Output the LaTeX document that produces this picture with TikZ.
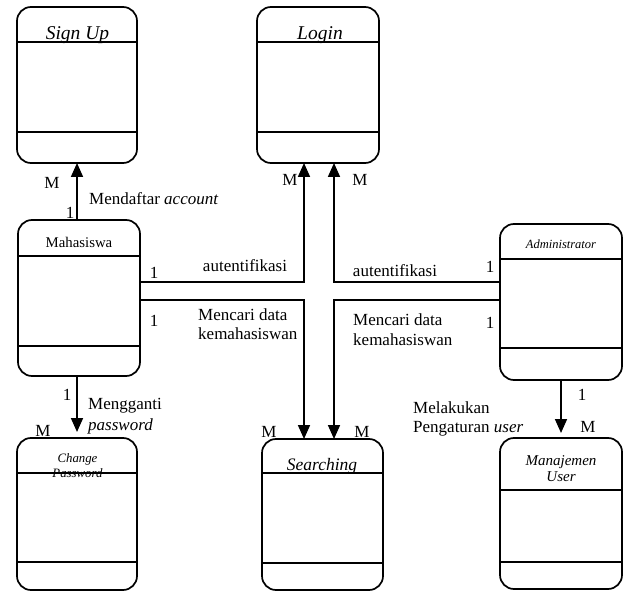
\documentclass[tikz,border=0pt]{standalone}
\usepackage{fontspec}
\setmainfont{Liberation Serif}
\usetikzlibrary{arrows.meta}
\tikzset{
  entity/.style={draw, rounded corners=14pt, line width=1.7pt, inner sep=0pt, outer sep=0pt},
  divider/.style={line width=1.7pt},
  lbl/.style={font=\fontsize{17}{20}\selectfont, inner sep=0pt},
  ttl/.style={inner sep=0pt, anchor=base},
  flow/.style={line width=1.7pt},
  arr/.style={line width=1.7pt, -{Triangle[width=12pt,length=14pt]}},
}
\newcommand\entlines[3]{%
  \draw[divider] ([yshift=-#2]#1.north west) -- ([yshift=-#2]#1.north east);
  \draw[divider] ([yshift=#3]#1.south west) -- ([yshift=#3]#1.south east);}
\begin{document}
\begin{tikzpicture}[x=1pt,y=-1pt]
\useasboundingbox (0,0) rectangle (626,593);
% entities
\node[entity, minimum width=120pt, minimum height=156pt] (signup) at (77,85) {};
\node[entity, minimum width=122pt, minimum height=156pt] (login) at (318,85) {};
\node[entity, minimum width=122pt, minimum height=156pt] (maha) at (79,298) {};
\node[entity, minimum width=122pt, minimum height=156pt] (admin) at (561,302) {};
\node[entity, minimum width=120pt, minimum height=152pt] (change) at (77,514) {};
\node[entity, minimum width=121pt, minimum height=151pt] (search) at (322.5,514.5) {};
\node[entity, minimum width=122pt, minimum height=151pt] (manaj) at (561,513.5) {};
\entlines{signup}{35pt}{31pt}
\entlines{login}{35pt}{31pt}
\entlines{maha}{36pt}{30pt}
\entlines{admin}{35pt}{32pt}
\entlines{change}{35pt}{28pt}
\entlines{search}{34pt}{27pt}
\entlines{manaj}{52pt}{27pt}
% titles
\node[ttl, font=\fontsize{19.5}{22}\selectfont\itshape] (tsignup) at (77.5,40) {Sign Up};
\node[ttl, font=\fontsize{19.5}{22}\selectfont\itshape] (tlogin) at (320,40) {Login};
\node[ttl, font=\fontsize{14.8}{16}\selectfont] (tmaha) at (79,248) {Mahasiswa};
\node[ttl, font=\fontsize{12.5}{14}\selectfont\itshape] (tadmin) at (561,249) {Administrator};
\node[ttl, font=\fontsize{12.8}{15}\selectfont\itshape] (tchange1) at (77.5,462) {Change};
\node[ttl, font=\fontsize{12.8}{15}\selectfont\itshape] (tchange2) at (77.5,477) {Password};
\node[ttl, font=\fontsize{17.5}{20}\selectfont\itshape] (tsearch) at (322,470) {Searching};
\node[ttl, font=\fontsize{15}{17}\selectfont\itshape] (tmanaj1) at (561,465) {Manajemen};
\node[ttl, font=\fontsize{15}{17}\selectfont\itshape] (tmanaj2) at (561,481) {User};
% connectors
\coordinate (la) at (304,282);
\coordinate (lb) at (304,300);
\coordinate (ra) at (334,282);
\coordinate (rb) at (334,300);
\draw[arr] (signup.south |- maha.north) -- (signup.south);
\draw[arr, shorten >=6pt] (change.north |- maha.south) -- (change.north);
\draw[arr, shorten >=5pt] (admin.south -| manaj.north) -- (manaj.north);
\draw[arr] (maha.east |- la) -- (la) -- (login.south -| la);
\draw[arr] (maha.east |- lb) -- (lb) -- (search.north -| lb);
\draw[arr] (admin.west |- ra) -- (ra) -- (login.south -| ra);
\draw[arr] (admin.west |- rb) -- (rb) -- (search.north -| rb);
% cardinalities
\node[lbl] (m1) at (52,183) {M};
\node[lbl] (o1) at (70,213) {1};
\node[lbl] (m2) at (290,180) {M};
\node[lbl] (m3) at (360,180) {M};
\node[lbl] (o2) at (154,273) {1};
\node[lbl] (o3) at (154,321) {1};
\node[lbl] (o4) at (490,267) {1};
\node[lbl] (o5) at (490,323) {1};
\node[lbl] (o6) at (67,395) {1};
\node[lbl] (m4) at (43,431) {M};
\node[lbl] (m5) at (269,432) {M};
\node[lbl] (m6) at (362,432) {M};
\node[lbl] (o7) at (582,395) {1};
\node[lbl] (m7) at (588,427) {M};
% relation labels
\node[lbl, anchor=base west] (r1) at (89,205) {Mendaftar \textit{account}};
\node[lbl, anchor=base] (r2) at (245,272) {autentifikasi};
\node[lbl, anchor=base] (r3) at (395,277) {autentifikasi};
\node[lbl, anchor=base west] (r4a) at (198,321) {Mencari data};
\node[lbl, anchor=base west] (r4b) at (198,340) {kemahasiswan};
\node[lbl, anchor=base west] (r5a) at (353,326) {Mencari data};
\node[lbl, anchor=base west] (r5b) at (353,345) {kemahasiswan};
\node[lbl, anchor=base west] (r6a) at (88,409) {Mengganti};
\node[lbl, anchor=base west] (r6b) at (88,430) {\textit{password}};
\node[lbl, anchor=base west] (r7a) at (413,413) {Melakukan};
\node[lbl, anchor=base west] (r7b) at (413,432) {Pengaturan \textit{user}};
\end{tikzpicture}
\end{document}
